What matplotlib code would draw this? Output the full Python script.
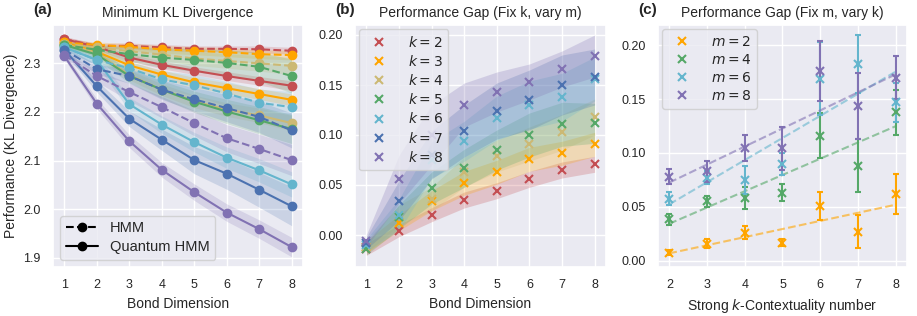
import numpy as np
import matplotlib
matplotlib.use("Agg")
import matplotlib.pyplot as plt
import seaborn as sns
from matplotlib.lines import Line2D

sns.set_theme(style="darkgrid")
plt.rcParams["font.family"] = ["Liberation Sans", "DejaVu Sans"]
plt.rcParams["mathtext.fontset"] = "dejavusans"

# colours per k (or m)
colors = {2: "#C44E52", 3: "#FFA500", 4: "#CCB974", 5: "#55A868",
          6: "#64B5CD", 7: "#4C72B0", 8: "#8172B3"}

bond_dim = [1, 2, 3, 4, 5, 6, 7, 8]
k_values = [2, 3, 4, 5, 6, 7, 8]

# (a) minimum KL divergence, HMM (dashed) and quantum HMM (solid)
hmm_kl = {
    2: [2.350, 2.336, 2.336, 2.333, 2.330, 2.330, 2.329, 2.326],
    3: [2.343, 2.338, 2.334, 2.329, 2.326, 2.323, 2.319, 2.317],
    4: [2.340, 2.333, 2.325, 2.318, 2.310, 2.305, 2.300, 2.295],
    5: [2.338, 2.328, 2.319, 2.312, 2.307, 2.301, 2.293, 2.274],
    6: [2.333, 2.307, 2.290, 2.267, 2.255, 2.238, 2.219, 2.210],
    7: [2.328, 2.288, 2.274, 2.246, 2.226, 2.208, 2.190, 2.162],
    8: [2.317, 2.274, 2.241, 2.210, 2.177, 2.146, 2.124, 2.101],
}
hmm_kl_err = {
    2: [0.005, 0.005, 0.006, 0.006, 0.006, 0.006, 0.007, 0.007],
    3: [0.006, 0.006, 0.007, 0.008, 0.008, 0.009, 0.009, 0.010],
    4: [0.006, 0.008, 0.010, 0.012, 0.014, 0.015, 0.016, 0.018],
    5: [0.006, 0.010, 0.015, 0.020, 0.024, 0.027, 0.030, 0.035],
    6: [0.006, 0.010, 0.014, 0.018, 0.022, 0.025, 0.028, 0.032],
    7: [0.006, 0.010, 0.015, 0.020, 0.024, 0.028, 0.032, 0.036],
    8: [0.006, 0.012, 0.018, 0.022, 0.026, 0.028, 0.030, 0.032],
}
qhmm_kl = {
    2: [2.350, 2.334, 2.312, 2.297, 2.285, 2.274, 2.264, 2.254],
    3: [2.343, 2.324, 2.296, 2.277, 2.261, 2.249, 2.237, 2.225],
    4: [2.340, 2.322, 2.276, 2.246, 2.222, 2.205, 2.193, 2.177],
    5: [2.338, 2.318, 2.274, 2.246, 2.221, 2.201, 2.183, 2.165],
    6: [2.333, 2.307, 2.216, 2.174, 2.138, 2.106, 2.080, 2.051],
    7: [2.328, 2.253, 2.186, 2.143, 2.101, 2.073, 2.040, 2.006],
    8: [2.315, 2.217, 2.140, 2.081, 2.035, 1.993, 1.959, 1.922],
}
qhmm_kl_err = {
    2: [0.005, 0.006, 0.007, 0.008, 0.008, 0.009, 0.009, 0.010],
    3: [0.006, 0.007, 0.008, 0.009, 0.010, 0.011, 0.011, 0.012],
    4: [0.006, 0.008, 0.010, 0.012, 0.013, 0.014, 0.015, 0.016],
    5: [0.006, 0.010, 0.014, 0.018, 0.022, 0.025, 0.028, 0.030],
    6: [0.006, 0.010, 0.014, 0.018, 0.020, 0.022, 0.024, 0.026],
    7: [0.006, 0.012, 0.016, 0.022, 0.028, 0.032, 0.036, 0.040],
    8: [0.006, 0.010, 0.013, 0.015, 0.017, 0.018, 0.019, 0.020],
}

# (b) performance gap, fix k and vary bond dimension
gap_k = {
    2: [-0.0143, 0.0043, 0.0203, 0.0350, 0.0443, 0.0557, 0.0650, 0.0707],
    3: [-0.0120, 0.0123, 0.0343, 0.0517, 0.0627, 0.0757, 0.0817, 0.0907],
    4: [-0.0120, 0.0200, 0.0360, 0.0630, 0.0790, 0.0910, 0.1027, 0.1180],
    5: [-0.0140, 0.0183, 0.0470, 0.0667, 0.0850, 0.1000, 0.1107, 0.1117],
    6: [-0.0100, 0.0200, 0.0750, 0.0937, 0.1170, 0.1300, 0.1377, 0.1560],
    7: [-0.0080, 0.0343, 0.0800, 0.1040, 0.1240, 0.1350, 0.1500, 0.1580],
    8: [-0.0057, 0.0557, 0.1000, 0.1300, 0.1430, 0.1530, 0.1660, 0.1790],
}
gap_k_err = {
    2: [0.006, 0.006, 0.007, 0.008, 0.008, 0.008, 0.008, 0.008],
    3: [0.006, 0.008, 0.010, 0.012, 0.012, 0.012, 0.012, 0.012],
    4: [0.006, 0.010, 0.012, 0.015, 0.016, 0.017, 0.018, 0.018],
    5: [0.006, 0.012, 0.016, 0.019, 0.020, 0.022, 0.022, 0.020],
    6: [0.006, 0.016, 0.018, 0.020, 0.022, 0.024, 0.024, 0.022],
    7: [0.006, 0.020, 0.024, 0.026, 0.028, 0.030, 0.030, 0.028],
    8: [0.006, 0.024, 0.030, 0.022, 0.020, 0.018, 0.018, 0.021],
}

# (c) performance gap, fix m and vary k
contextuality = [2, 3, 4, 5, 6, 7, 8]
m_values = [2, 4, 6, 8]
m_colors = {2: colors[3], 4: colors[5], 6: colors[6], 8: colors[8]}
gap_m = {
    2: [0.0074, 0.0157, 0.0259, 0.0167, 0.0506, 0.0269, 0.0620],
    4: [0.0383, 0.0552, 0.0583, 0.0630, 0.1160, 0.0883, 0.1380],
    6: [0.0574, 0.0768, 0.0747, 0.0900, 0.1690, 0.1830, 0.1470],
    8: [0.0778, 0.0830, 0.1046, 0.1046, 0.1760, 0.1438, 0.1700],
}
gap_m_err = {
    2: [0.002, 0.004, 0.006, 0.003, 0.013, 0.0155, 0.0185],
    4: [0.005, 0.005, 0.010, 0.008, 0.021, 0.0247, 0.021],
    6: [0.006, 0.006, 0.013, 0.010, 0.034, 0.027, 0.018],
    8: [0.007, 0.010, 0.012, 0.020, 0.028, 0.031, 0.020],
}

fig = plt.figure(figsize=(9.17, 3.16), dpi=100)
W, H = 917, 316
bot, top = 267, 25


def make_ax(x0, x1):
    return fig.add_axes([x0 / W, 1 - bot / H, (x1 - x0) / W, (bot - top) / H])


ax_a = make_ax(53, 303)
ax_b = make_ax(355, 606)
ax_c = make_ax(658, 907)

fs_tick = 9
fs_lab = 10

# ---- (a)
for k in k_values:
    c = colors[k]
    for vals, errs, ls in ((hmm_kl[k], hmm_kl_err[k], "--"), (qhmm_kl[k], qhmm_kl_err[k], "-")):
        v = np.array(vals)
        e = np.array(errs)
        ax_a.fill_between(bond_dim, v - e, v + e, color=c, alpha=0.2, linewidth=0)
        ax_a.plot(bond_dim, v, ls, color=c, marker="o", markersize=6, linewidth=1.5)
ax_a.set_yticks([1.9, 2.0, 2.1, 2.2, 2.3])
ax_a.set_ylim(1.881, 2.379)
ax_a.set_xticks(bond_dim)
ax_a.set_xlabel("Bond Dimension", fontsize=fs_lab)
ax_a.set_ylabel("Performance (KL Divergence)", fontsize=fs_lab)
ax_a.set_title("Minimum KL Divergence", fontsize=fs_lab)
handles = [Line2D([], [], color="black", ls="--", marker="o", markersize=6, lw=1.5),
           Line2D([], [], color="black", ls="-", marker="o", markersize=6, lw=1.5)]
ax_a.legend(handles, ["HMM", "Quantum HMM"], loc="lower left", fontsize=fs_lab + 0.5,
            handlelength=2.2, labelspacing=0.3)

# ---- (b)
for k in k_values:
    c = colors[k]
    v = np.array(gap_k[k])
    e = np.array(gap_k_err[k])
    ax_b.fill_between(bond_dim, v - e, v + e, color=c, alpha=0.25, linewidth=0)
    ax_b.plot(bond_dim, v, "x", color=c, markersize=6, markeredgewidth=1.5,
              label=f"$k = {k}$")
ax_b.set_ylim(-0.032, 0.21)
ax_b.set_yticks([0.0, 0.05, 0.10, 0.15, 0.20])
ax_b.set_yticklabels(["0.00", "0.05", "0.10", "0.15", "0.20"])
ax_b.set_xticks(bond_dim)
ax_b.set_xlabel("Bond Dimension", fontsize=fs_lab)
ax_b.set_title("Performance Gap (Fix k, vary m)", fontsize=fs_lab)
ax_b.legend(loc="upper left", fontsize=fs_lab, handletextpad=1.1,
            labelspacing=0.3, borderaxespad=0.3)

# ---- (c)
xs = np.array(contextuality)
m_handles = []
for m in m_values:
    c = m_colors[m]
    v = np.array(gap_m[m])
    slope, icpt = np.polyfit(xs, v, 1)
    ax_c.plot(xs, slope * xs + icpt, "--", color=c, alpha=0.6, linewidth=1.5)
    ax_c.errorbar(xs, v, yerr=gap_m_err[m], fmt="x", color=c, markersize=6,
                  markeredgewidth=1.5, capsize=2, elinewidth=1.5)
    m_handles.append(Line2D([], [], ls="none", marker="x", color=c, markersize=6,
                            markeredgewidth=1.5))
ax_c.set_ylim(-0.006, 0.219)
ax_c.set_yticks([0.0, 0.05, 0.10, 0.15, 0.20])
ax_c.set_yticklabels(["0.00", "0.05", "0.10", "0.15", "0.20"])
ax_c.set_xticks(contextuality)
ax_c.set_xlabel("Strong $k$-Contextuality number", fontsize=fs_lab)
ax_c.set_title("Performance Gap (Fix m, vary k)", fontsize=fs_lab)
ax_c.legend(m_handles, [f"$m = {m}$" for m in m_values], loc="upper left",
            fontsize=fs_lab, handletextpad=1.1, labelspacing=0.3,
            borderaxespad=0.3)

for ax, lab in ((ax_a, "(a)"), (ax_b, "(b)"), (ax_c, "(c)")):
    ax.tick_params(labelsize=fs_tick, pad=3)
    ax.text(-0.04, 1.035, lab, transform=ax.transAxes, fontsize=fs_lab + 1,
            fontweight="bold", ha="center", va="bottom")

fig.savefig("out.png", dpi=100)
